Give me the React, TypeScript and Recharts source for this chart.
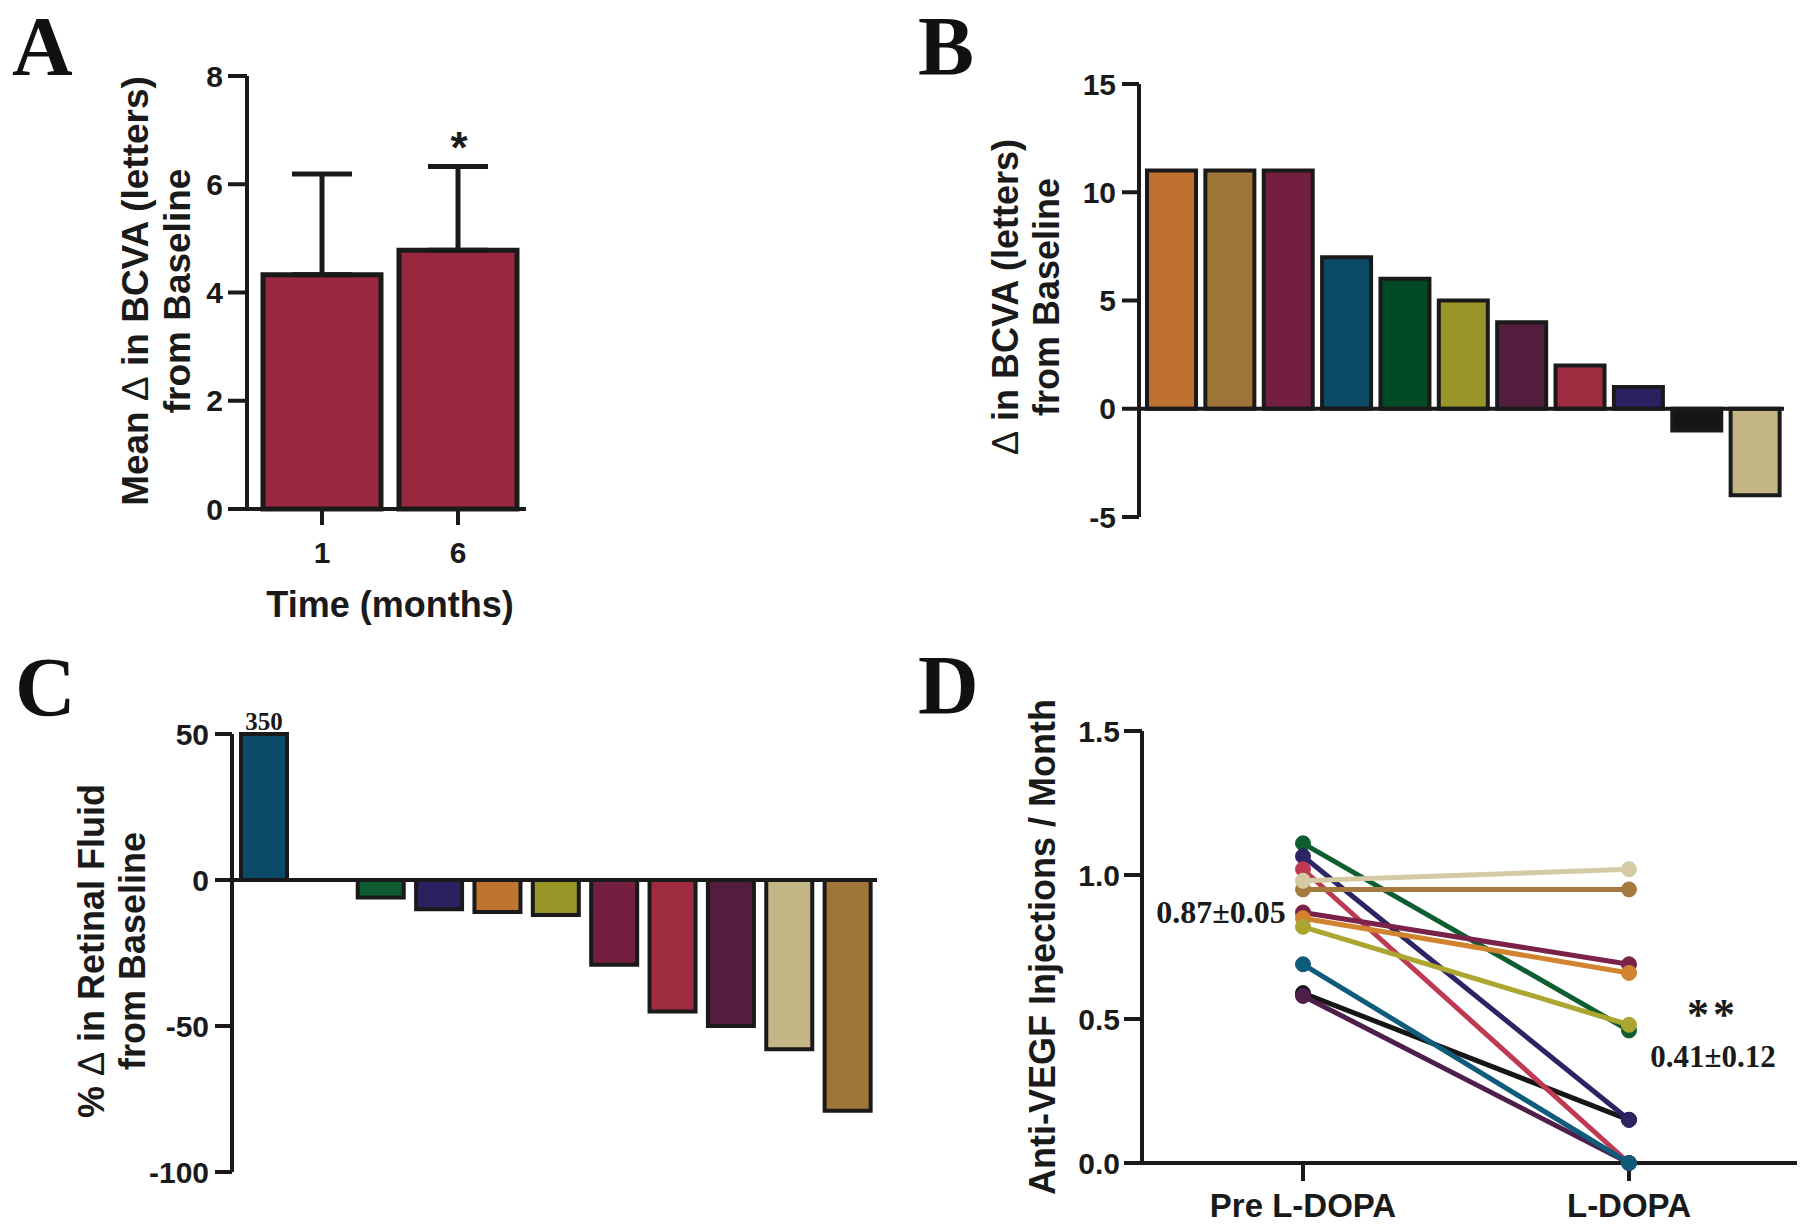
import React from 'react';
import {
  BarChart,
  Bar,
  XAxis,
  YAxis,
  ErrorBar,
  Cell,
  ReferenceLine,
  LabelList,
  LineChart,
  Line,
} from 'recharts';

const SANS = '"Liberation Sans", Arial, Helvetica, sans-serif';
const SERIF = '"Liberation Serif", "Times New Roman", serif';
const INK = '#1a1a1a';

// ---------- Panel A ----------
const timeMonths = ['1', '6'];
const meanBcva = [4.33, 4.78];
const semBcva = [1.86, 1.55];
const barColorA = '#98293f';
const ticksA = [0, 2, 4, 6, 8];

// ---------- Panel B ----------
const patientsB = ['b1', 'b2', 'b3', 'b4', 'b5', 'b6', 'b7', 'b8', 'b9', 'b10', 'b11'];
const bcvaChange = [11, 11, 11, 7, 6, 5, 4, 2, 1, -1, -4];
const colorsB = [
  '#bf722f', '#a07638', '#721f40', '#0b4b68', '#004b25', '#9a9529',
  '#531d3d', '#9f2b41', '#2b2060', '#151515', '#c4b585',
];
const ticksB = [-5, 0, 5, 10, 15];

// ---------- Panel C ----------
const patientsC = ['c1', 'c2', 'c3', 'c4', 'c5', 'c6', 'c7', 'c8', 'c9', 'c10', 'c11'];
const fluidChange = [350, 0, -6, -10, -11, -12, -29, -45, -50, -58, -79];
const colorsC = [
  '#0b4b68', '#ffffff', '#0f5b30', '#2d2060', '#bf742f', '#9a9529',
  '#721f40', '#9f2b41', '#531d3d', '#c4b585', '#a07638',
];
const fluidAxisMax = 50;
const ticksC = [-100, -50, 0, 50];

// ---------- Panel D ----------
const phases = ['Pre L-DOPA', 'L-DOPA'];
const patientsD = ['d1', 'd2', 'd3', 'd4', 'd5', 'd6', 'd7', 'd8', 'd9', 'd10', 'd11'];
const preInj = [0.59, 0.58, 1.11, 1.065, 1.02, 0.95, 0.98, 0.87, 0.85, 0.82, 0.69];
const postInj = [0.15, 0, 0.46, 0.15, 0, 0.95, 1.02, 0.69, 0.66, 0.48, 0];
const colorsD = [
  '#161616', '#4e1f4a', '#0f5e31', '#2c2463', '#bd3a52', '#a67a3e',
  '#d4cba5', '#7a2249', '#d2832f', '#aaa631', '#0e5b7b',
];
const ticksD = [0, 0.5, 1, 1.5];

// ---------- tables ----------
const dataA = timeMonths.map((t, i) => ({ time: t, mean: meanBcva[i], err: [0, semBcva[i]] }));
const dataB = patientsB.map((p, i) => ({ id: p, value: bcvaChange[i] }));
const dataC = patientsC.map((p, i) => ({
  id: p,
  raw: fluidChange[i],
  value: Math.min(fluidChange[i], fluidAxisMax),
}));
const dataD = phases.map((ph, i) => {
  const row: Record<string, any> = { phase: ph };
  patientsD.forEach((p, j) => {
    row[p] = i === 0 ? preInj[j] : postInj[j];
  });
  return row;
});

const tickStyle = { fill: INK, fontSize: 30, fontFamily: SANS, fontWeight: 700 };
const tickStyleD = { fill: INK, fontSize: 33, fontFamily: SANS, fontWeight: 700 };
const axisLineStyle = { stroke: INK, strokeWidth: 4 };

const abs = (left: number, top: number): React.CSSProperties => ({ position: 'absolute', left, top });

const Delta = () => <tspan fontWeight={400}>Δ</tspan>;

export default function App() {
  return (
    <div
      style={{
        position: 'absolute',
        left: 0,
        top: 0,
        width: 1800,
        height: 1230,
        background: '#ffffff',
        overflow: 'hidden',
      }}
    >
      {/* Panel A */}
      <div style={abs(60, 36)}>
        <BarChart width={476} height={538} data={dataA} margin={{ top: 40, right: 10, bottom: 5, left: 0 }}>
          <XAxis
            dataKey="time"
            height={60}
            padding={{ left: 7, right: 0 }}
            axisLine={axisLineStyle}
            tickLine={axisLineStyle}
            tickSize={16}
            tickMargin={17}
            tick={tickStyle}
          />
          <YAxis
            width={187}
            domain={[0, 8]}
            ticks={ticksA}
            interval={0}
            axisLine={axisLineStyle}
            tickLine={axisLineStyle}
            tickSize={19}
            tickMargin={5}
            tick={tickStyle}
          />
          <Bar dataKey="mean" fill={barColorA} stroke={INK} strokeWidth={5} barSize={118} isAnimationActive={false}>
            <ErrorBar dataKey="err" direction="y" width={30} stroke={INK} strokeWidth={5} />
          </Bar>
        </BarChart>
      </div>

      {/* Panel B */}
      <div style={abs(1000, 50)}>
        <BarChart width={794} height={497} data={dataB} margin={{ top: 34, right: 10, bottom: 30, left: 0 }}>
          <XAxis dataKey="id" hide padding={{ left: 3, right: 0 }} />
          <YAxis
            width={139}
            domain={[-5, 15]}
            ticks={ticksB}
            interval={0}
            axisLine={axisLineStyle}
            tickLine={axisLineStyle}
            tickSize={17}
            tickMargin={6}
            tick={tickStyle}
          />
          <Bar dataKey="value" stroke={INK} strokeWidth={4} barSize={49} isAnimationActive={false}>
            {dataB.map((d, i) => (
              <Cell key={d.id} fill={colorsB[i]} />
            ))}
          </Bar>
          <ReferenceLine y={0} stroke={INK} strokeWidth={4} />
        </BarChart>
      </div>

      {/* Panel C */}
      <div style={abs(100, 700)}>
        <BarChart width={787} height={502} data={dataC} margin={{ top: 34, right: 10, bottom: 30, left: 0 }}>
          <XAxis dataKey="id" hide padding={{ left: 3, right: 0 }} />
          <YAxis
            width={132}
            domain={[-100, fluidAxisMax]}
            ticks={ticksC}
            interval={0}
            axisLine={axisLineStyle}
            tickLine={axisLineStyle}
            tickSize={17}
            tickMargin={6}
            tick={tickStyle}
          />
          <Bar dataKey="value" stroke={INK} strokeWidth={4} barSize={46} isAnimationActive={false}>
            {dataC.map((d, i) => (
              <Cell key={d.id} fill={colorsC[i]} />
            ))}
            <LabelList
              dataKey="raw"
              position="top"
              offset={4}
              formatter={(v: any) => (Number(v) > fluidAxisMax ? String(v) : '')}
              fill={INK}
              fontSize={25}
              fontFamily={SERIF}
              fontWeight={700}
            />
          </Bar>
          <ReferenceLine y={0} stroke={INK} strokeWidth={4} />
        </BarChart>
      </div>

      {/* Panel D */}
      <div style={abs(1000, 700)}>
        <LineChart width={800} height={525} data={dataD} margin={{ top: 31, right: 3, bottom: 0, left: 0 }}>
          <XAxis
            dataKey="phase"
            height={62}
            padding={{ left: 161, right: 168 }}
            axisLine={axisLineStyle}
            tickLine={axisLineStyle}
            tickSize={18}
            tickMargin={13}
            tick={tickStyleD}
          />
          <YAxis
            width={142}
            domain={[0, 1.5]}
            ticks={ticksD}
            interval={0}
            tickFormatter={(v: number) => v.toFixed(1)}
            axisLine={axisLineStyle}
            tickLine={axisLineStyle}
            tickSize={18}
            tickMargin={4}
            tick={tickStyle}
          />
          {patientsD.map((p, j) => (
            <Line
              key={p}
              dataKey={p}
              type="linear"
              stroke={colorsD[j]}
              strokeWidth={5}
              dot={{ r: 7.5, fill: colorsD[j], stroke: colorsD[j], strokeWidth: 1 }}
              activeDot={false}
              isAnimationActive={false}
            />
          ))}
        </LineChart>
      </div>

      {/* Annotations, titles and panel letters */}
      <svg
        width={1800}
        height={1230}
        style={{ position: 'absolute', left: 0, top: 0, pointerEvents: 'none' }}
      >
        <g fontFamily={SERIF} fontWeight={700} fontSize={84} fill="#111">
          <text x={12} y={75}>A</text>
          <text x={918} y={75}>B</text>
          <text x={15} y={716}>C</text>
          <text x={918} y={714}>D</text>
        </g>
        <g fontFamily={SANS} fontWeight={700} fontSize={36} fill={INK} textAnchor="middle">
          <text transform="translate(148,291) rotate(-90)" fontSize={37}>
            Mean <Delta /> in BCVA (letters)
          </text>
          <text transform="translate(190,291) rotate(-90)" fontSize={37}>from Baseline</text>
          <text x={390} y={617}>Time (months)</text>
          <text transform="translate(1018,297) rotate(-90)">
            <Delta /> in BCVA (letters)
          </text>
          <text transform="translate(1059,297) rotate(-90)">from Baseline</text>
          <text transform="translate(104,951) rotate(-90)">
            % <Delta /> in Retinal Fluid
          </text>
          <text transform="translate(145,951) rotate(-90)">from Baseline</text>
          <text transform="translate(1055,947) rotate(-90)">Anti-VEGF Injections / Month</text>
          <text x={459} y={163} fontSize={44}>*</text>
        </g>
        <g fontFamily={SERIF} fontWeight={700} fill={INK} textAnchor="middle">
          <text x={1221} y={923} fontSize={32}>0.87±0.05</text>
          <text x={1713} y={1029} fontSize={44} letterSpacing={4}>**</text>
          <text x={1713} y={1067} fontSize={31}>0.41±0.12</text>
        </g>
      </svg>
    </div>
  );
}
